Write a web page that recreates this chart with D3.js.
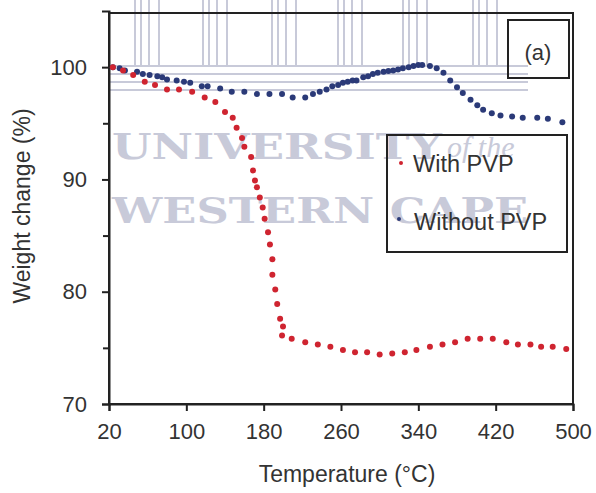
<!DOCTYPE html>
<html>
<head>
<meta charset="utf-8">
<script src="https://cdn.jsdelivr.net/npm/d3@7"></script>
<style>
  body { margin: 0; background: #fff; }
  svg { display: block; font-family: "Liberation Sans", Arial, sans-serif; }
</style>
</head>
<body>
<div id="chart"></div>
<script>
// temperatures (°C) and weight change (%)
const withTemp = [24, 34.5, 45, 57, 67.6, 80, 92.4, 106, 119, 130, 140, 148, 152, 157.6, 160, 167, 169, 171, 173, 176, 179, 181,
  184.5, 186.5, 189, 189, 192, 194, 197, 200, 199, 209, 223, 236, 249, 262, 274.5, 287, 300, 313, 326, 338, 352, 365, 378,
  391, 404, 417, 431, 443, 456, 467, 479, 493];
const withPVP = [100.0, 99.7, 99.3, 98.7, 98.4, 98.0, 98.0, 97.8, 97.3, 96.9, 96.0, 95.5, 94.6, 93.7, 92.9, 92.0, 90.8, 89.9, 89.3, 88.4, 87.5, 86.5,
  85.3, 84.2, 82.9, 81.5, 80.2, 78.9, 77.6, 76.9, 76.1, 75.8, 75.5, 75.3, 75.1, 74.8, 74.6, 74.6, 74.4, 74.5, 74.6, 74.8, 75.1, 75.3, 75.5,
  75.8, 75.8, 75.8, 75.5, 75.3, 75.3, 75.1, 75.1, 74.9];

const withoutTemp = [24, 31, 36.5, 49, 55, 62, 70, 75, 80, 90, 97.6, 104, 116, 122, 135, 147, 160, 173, 186, 199, 210, 223,
  231, 238, 245, 251, 257, 262, 267, 272, 276, 283, 288, 293, 298, 304, 309, 314, 319, 324, 330, 335, 340, 344, 352, 359, 366,
  373, 380, 386, 394, 401, 407, 416, 425, 437, 448, 463, 474, 489];
const withoutPVP = [100.0, 99.9, 99.7, 99.6, 99.4, 99.3, 99.2, 99.1, 98.9, 98.8, 98.7, 98.6, 98.3, 98.3, 98.1, 97.8, 97.8, 97.6, 97.6, 97.6, 97.3, 97.3,
  97.6, 97.8, 98.0, 98.3, 98.4, 98.6, 98.7, 98.8, 98.8, 99.1, 99.2, 99.4, 99.5, 99.6, 99.65, 99.7, 99.8, 99.9, 100.0, 100.1, 100.2, 100.2, 100.1, 99.9, 99.5,
  98.8, 98.2, 97.7, 97.1, 96.6, 96.2, 95.9, 95.7, 95.6, 95.5, 95.5, 95.4, 95.1];

const xTicks = [20, 100, 180, 260, 340, 420, 500];
const yTicks = [70, 80, 90, 100];
const yMinor = [75, 85, 95];

const W = 596, H = 493;
const margin = {top: 13, right: 23, bottom: 90, left: 109};

const svg = d3.select("#chart").append("svg")
  .attr("width", W).attr("height", H);

// faint thesis watermark behind the plot
const wmColor = "#c8cad9";
const wm = svg.append("g").attr("fill", "none").attr("stroke", wmColor).attr("stroke-width", 2);
[135, 203, 272, 338, 403, 473].forEach(px => {
  [0, 6, 14, 24].forEach(dx => {
    wm.append("line").attr("x1", px + dx).attr("x2", px + dx).attr("y1", 0).attr("y2", 65);
  });
});
[66, 74, 82, 90].forEach(py => {
  wm.append("line").attr("x1", 108).attr("x2", 528).attr("y1", py).attr("y2", py);
});
svg.append("text").attr("x", 112).attr("y", 159)
  .attr("font-family", "DejaVu Serif").attr("font-weight", "bold").attr("font-size", 36)
  .attr("fill", wmColor).attr("textLength", 330).attr("lengthAdjust", "spacingAndGlyphs")
  .text("UNIVERSITY");
svg.append("text").attr("x", 447).attr("y", 157)
  .attr("font-family", "Liberation Serif").attr("font-style", "italic").attr("font-size", 30)
  .attr("fill", wmColor).text("of the");
svg.append("text").attr("x", 112).attr("y", 223)
  .attr("font-family", "DejaVu Serif").attr("font-weight", "bold").attr("font-size", 36)
  .attr("fill", wmColor).attr("textLength", 416).attr("lengthAdjust", "spacingAndGlyphs")
  .text("WESTERN  CAPE");

const x = d3.scaleLinear().domain([20, 500]).range([margin.left, W - margin.right]);
const y = d3.scaleLinear().domain([70, 105]).range([404, 11]);

// frame
svg.append("rect")
  .attr("x", x(20)).attr("y", margin.top)
  .attr("width", x(500) - x(20)).attr("height", y(70) - margin.top)
  .attr("fill", "none").attr("stroke", "#222").attr("stroke-width", 2);

svg.append("g")
  .attr("transform", `translate(0,${y(70)})`)
  .call(d3.axisBottom(x).tickValues(xTicks).tickSize(7).tickPadding(12).tickFormat(d3.format("d")));
svg.append("g")
  .attr("transform", `translate(${x(20)},0)`)
  .call(d3.axisLeft(y).tickValues(yTicks).tickSize(7).tickPadding(15).tickFormat(d3.format("d")));
svg.append("g")
  .attr("transform", `translate(${x(20)},0)`)
  .call(d3.axisLeft(y).tickValues(yMinor).tickSize(6).tickFormat(""))
  .call(g => g.select(".domain").remove());

svg.selectAll(".tick line").attr("stroke", "#222").attr("stroke-width", 2);
svg.selectAll(".domain").attr("stroke", "#222").attr("stroke-width", 2);
svg.selectAll(".tick text").attr("font-size", 22).attr("fill", "#333")
  .attr("font-family", "Liberation Sans, Arial, sans-serif");

// axis titles
svg.append("text")
  .attr("x", 347).attr("y", 482)
  .attr("text-anchor", "middle").attr("font-size", 23).attr("fill", "#333")
  .text("Temperature (°C)");
svg.append("text")
  .attr("transform", "translate(30,206) rotate(-90)")
  .attr("text-anchor", "middle").attr("font-size", 23).attr("fill", "#333")
  .text("Weight change (%)");

// series
svg.append("g").selectAll("circle")
  .data(withoutTemp.map((t, i) => [t, withoutPVP[i]]))
  .join("circle")
  .attr("cx", d => x(d[0])).attr("cy", d => y(d[1])).attr("r", 3)
  .attr("fill", "#2b3a78");
svg.append("g").selectAll("circle")
  .data(withTemp.map((t, i) => [t, withPVP[i]]))
  .join("circle")
  .attr("cx", d => x(d[0])).attr("cy", d => y(d[1])).attr("r", 3)
  .attr("fill", "#cf2430");

// panel label
svg.append("rect").attr("x", 508).attr("y", 20).attr("width", 61).attr("height", 58)
  .attr("fill", "none").attr("stroke", "#222").attr("stroke-width", 2);
svg.append("text").attr("x", 538).attr("y", 60).attr("text-anchor", "middle")
  .attr("font-size", 22).attr("fill", "#333").text("(a)");

// legend
const leg = svg.append("g");
leg.append("rect").attr("x", 387).attr("y", 135).attr("width", 180).attr("height", 117)
  .attr("fill", "none").attr("stroke", "#222").attr("stroke-width", 2);
leg.append("circle").attr("cx", 401).attr("cy", 163).attr("r", 2).attr("fill", "#cf2430");
leg.append("text").attr("x", 413).attr("y", 172).attr("font-size", 23.5).attr("fill", "#333").text("With PVP");
leg.append("circle").attr("cx", 399).attr("cy", 219).attr("r", 2).attr("fill", "#2b3a78");
leg.append("text").attr("x", 414).attr("y", 230).attr("font-size", 23.5).attr("fill", "#333").text("Without PVP");
</script>
</body>
</html>
